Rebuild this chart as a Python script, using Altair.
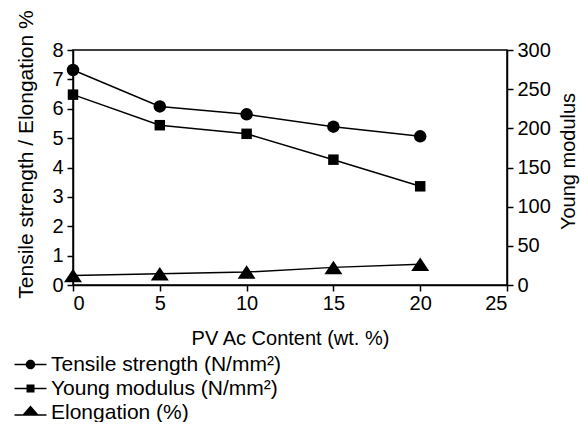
import altair as alt
import pandas as pd

content = [0, 5, 10, 15, 20]
tensile = [7.32, 6.08, 5.81, 5.39, 5.06]
young = [243, 204, 193, 160, 126]
elong = [0.32, 0.38, 0.44, 0.60, 0.71]
series_names = ["Tensile strength (N/mm²)", "Young modulus (N/mm²)", "Elongation (%)"]
x_ticks = [0, 5, 10, 15, 20, 25]
left_ticks = [0, 1, 2, 3, 4, 5, 6, 7, 8]
right_ticks = [0, 50, 100, 150, 200, 250, 300]

FONT = "Liberation Sans"

df_t = pd.DataFrame({"x": content, "value": tensile})
df_e = pd.DataFrame({"x": content, "value": elong})
df_y = pd.DataFrame({"x": content, "modulus": young})
df_leg = pd.DataFrame({"x": [0, 0, 0], "value": [0, 0, 0], "series": series_names})

X = alt.X("x:Q", scale=alt.Scale(domain=[0, 25], nice=False),
          axis=alt.Axis(values=x_ticks, title="PV Ac Content (wt. %)",
                        labelPadding=2, titlePadding=15))
YL = alt.Y("value:Q", scale=alt.Scale(domain=[0, 8], nice=False),
           axis=alt.Axis(values=left_ticks, title="Tensile strength / Elongation %",
                         titleFontSize=21, titlePadding=15, titleY=104, labelPadding=4))
YR = alt.Y("modulus:Q", scale=alt.Scale(domain=[0, 300], nice=False),
           axis=alt.Axis(values=right_ticks, orient="right", title="Young modulus",
                         titleAngle=270, titleBaseline="top", titlePadding=8, titleY=111,
                         labelPadding=4))

tri_path = "M0,-0.75L1,0.75L-1,0.75Z"

line_t = alt.Chart(df_t).mark_line(color="black", strokeWidth=1.5).encode(x=X, y=YL)
pt_t = alt.Chart(df_t).mark_point(shape="circle", filled=True, color="black", size=156, opacity=1).encode(x=X, y=YL)
line_e = alt.Chart(df_e).mark_line(color="black", strokeWidth=1.5).encode(x=X, y=YL)
pt_e = alt.Chart(df_e).mark_point(shape=tri_path, filled=True, color="black", size=324, opacity=1).encode(x=X, y=YL)

bar = "M-3.2,-0.15H3.2V0.15H-3.2Z"
leg_paths = [
    bar + "M0.95,0A0.95,0.95,0,1,1,-0.95,0A0.95,0.95,0,1,1,0.95,0Z",
    bar + "M-0.8,-0.8H0.8V0.8H-0.8Z",
    "M-3.2,0.35H3.2V0.65H-3.2Z" + "M0,-1.4L1.6,0.45L-1.6,0.45Z",
]
legend_layer = alt.Chart(df_leg).mark_point(filled=True, color="black", opacity=0).encode(
    x=X, y=YL,
    shape=alt.Shape("series:N",
                    scale=alt.Scale(domain=series_names, range=leg_paths),
                    legend=alt.Legend(title=None, orient="none", legendX=-53, legendY=304,
                                      symbolSize=100, symbolOpacity=1,
                                      symbolFillColor="black", symbolStrokeColor="black",
                                      symbolStrokeWidth=0, labelOffset=10,
                                      labelFont=FONT, labelFontSize=21, labelColor="black",
                                      rowPadding=2, labelLimit=400)),
)

left = alt.layer(line_t, line_e, pt_t, pt_e, legend_layer)

line_y = alt.Chart(df_y).mark_line(color="black", strokeWidth=1.5).encode(x=X, y=YR)
pt_y = alt.Chart(df_y).mark_point(shape="square", filled=True, color="black", size=110, opacity=1).encode(x=X, y=YR)
right = alt.layer(line_y, pt_y)

chart = alt.layer(left, right).resolve_scale(y="independent").properties(
    width=434, height=235,
    autosize=alt.AutoSizeParams(type="none"),
    padding={"left": 65, "top": 42, "right": 73, "bottom": 137},
).configure_axis(
    labelFont=FONT, labelFontSize=20, labelColor="black",
    titleFont=FONT, titleFontSize=20, titleFontWeight="normal", titleColor="black",
    domainColor="black", domainWidth=1.5, tickColor="black", tickWidth=1.5, tickSize=6,
    grid=False,
).configure_view(stroke="black", strokeWidth=1.5)

chart.save("out.html", embed_options={"renderer": "svg", "actions": False})
